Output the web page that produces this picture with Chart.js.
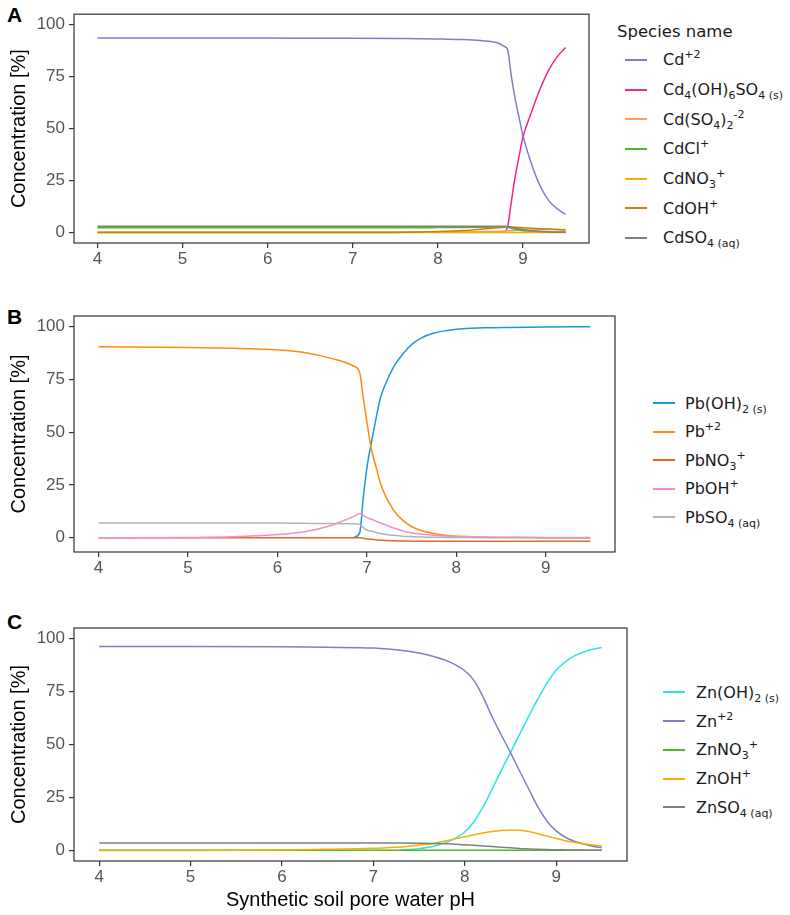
<!DOCTYPE html>
<html>
<head>
<meta charset="utf-8">
<script src="https://cdn.jsdelivr.net/npm/chart.js@4.4.0/dist/chart.umd.min.js"></script>
<style>
  body { margin: 0; background: #fff; width: 790px; height: 915px; position: relative; overflow: hidden; }
  canvas { position: absolute; left: 0; }
  .tag { position: absolute; left: 7px; font: bold 21px "Liberation Sans", Arial, sans-serif; color: #000; line-height: 24px; }
  .legend { position: absolute; font-family: "DejaVu Sans", sans-serif; font-size: 16px; color: #1a1a1a; }
  .ltitle { position: absolute; font-family: "DejaVu Sans", sans-serif; font-size: 16.5px; color: #1a1a1a; line-height: 20px; }
  .item { display: flex; align-items: center; white-space: nowrap; }
  .key { width: 22px; height: 2px; flex: none; }
  sub, sup { font-size: 11px; line-height: 0; position: relative; vertical-align: baseline; }
  sup { top: -7px; }
  sub { top: 4px; }
</style>
</head>
<body>
<div class="tag" style="top:3px">A</div>
<div class="tag" style="top:305px">B</div>
<div class="tag" style="top:610px">C</div>
<canvas id="chartA" width="600" height="273" style="top:0px"></canvas>
<canvas id="chartB" width="620" height="292" style="top:290px"></canvas>
<canvas id="chartC" width="630" height="325" style="top:590px"></canvas>
<div class="ltitle" style="left:617px; top:22px">Species name</div>
<div class="legend" id="legA" style="left:625px; top:45px"></div>
<div class="legend" id="legB" style="left:653px; top:389px"></div>
<div class="legend" id="legC" style="left:663px; top:678px"></div>
<script>
const FONT = '"Liberation Sans", Arial, sans-serif';
const yTicks = [0, 25, 50, 75, 100];
const xTicks = [4, 5, 6, 7, 8, 9];
const yTitle = 'Concentration [%]';
const xTitle = 'Synthetic soil pore water pH';

// A: cadmium species
const phA = [4, 5, 6, 7, 7.5, 8, 8.3, 8.5, 8.7, 8.78, 8.82, 8.86, 8.9, 8.95, 9.0, 9.1, 9.2, 9.3, 9.4, 9.5];
const cd2    = [93.6, 93.6, 93.5, 93.4, 93.3, 93.1, 92.8, 92.3, 91.3, 89.5, 87.8, 76, 66, 56, 46.5, 33, 22.5, 15.5, 11.5, 8.8];
const cdOHs  = [null, null, null, null, null, null, null, null, null, 0, 3, 14, 25, 36, 46, 58, 69, 78, 84.5, 89];
const cdSO42 = [0.3, 0.3, 0.3, 0.3, 0.3, 0.3, 0.4, 0.5, 0.6, 0.7, 0.8, 0.9, 1.0, 1.1, 1.2, 1.3, 1.4, 1.5, 1.5, 1.5];
const cdCl   = [2.3, 2.3, 2.3, 2.3, 2.3, 2.4, 2.5, 2.6, 2.7, 2.8, 2.6, 2.1, 1.6, 1.2, 0.9, 0.6, 0.5, 0.4, 0.3, 0.3];
const cdNO3  = [0.1, 0.1, 0.1, 0.1, 0.1, 0.1, 0.1, 0.1, 0.1, 0.1, 0.1, 0.1, 0.1, 0.1, 0.1, 0.1, 0.1, 0.1, 0.1, 0.1];
const cdOH   = [0, 0, 0, 0, 0.1, 0.5, 1.0, 1.6, 2.3, 2.6, 2.8, 2.7, 2.6, 2.5, 2.3, 2.1, 1.9, 1.7, 1.5, 1.3];
const cdSO4  = [3.0, 3.0, 3.0, 3.0, 3.0, 3.0, 3.0, 3.0, 3.0, 3.0, 2.9, 2.6, 2.2, 1.8, 1.5, 0.9, 0.5, 0.3, 0.2, 0.2];
const namesA = ['Cd<sup>+2</sup>', 'Cd<sub>4</sub>(OH)<sub>6</sub>SO<sub>4 (s)</sub>', 'Cd(SO<sub>4</sub>)<sub>2</sub><sup>-2</sup>',
  'CdCl<sup>+</sup>', 'CdNO<sub>3</sub><sup>+</sup>', 'CdOH<sup>+</sup>', 'CdSO<sub>4 (aq)</sub>'];
const colorsA = ['#7e7ec8', '#f5238d', '#f8a05c', '#52b52a', '#f9ad00', '#c8820a', '#808080'];

// B: lead species
const phB = [4, 5, 5.5, 6, 6.3, 6.6, 6.85, 6.92, 6.96, 7.0, 7.05, 7.1, 7.15, 7.2, 7.3, 7.4, 7.5, 7.6, 7.75, 7.9, 8.1, 8.3, 8.6, 9.0, 9.5];
const pbOH2 = [null, null, null, null, null, null, 0, 2.4, 19, 33, 45, 56, 66, 72, 81, 87, 91.5, 94.5, 97, 98.2, 99.2, 99.5, 99.7, 99.9, 100];
const pb2   = [90.5, 90.2, 89.8, 89.0, 87.8, 85.0, 81.4, 78.2, 66, 55, 42, 34, 26, 20.5, 13, 8.3, 5.3, 3.5, 2.0, 1.0, 0.5, 0.2, 0.1, 0, 0];
const pbNO3 = [0, 0, 0, 0, 0, 0, 0, 0, -0.3, -0.6, -0.8, -1.0, -1.2, -1.3, -1.5, -1.6, -1.7, -1.7, -1.7, -1.7, -1.7, -1.7, -1.7, -1.7, -1.7];
const pbOH  = [0, 0.1, 0.4, 1.5, 2.8, 5.8, 10, 11.4, 10.6, 9.6, 8.7, 7.9, 7.0, 6.2, 4.6, 3.2, 2.3, 1.7, 1.2, 0.8, 0.5, 0.3, 0.2, 0.1, 0.1];
const pbSO4 = [7.0, 7.0, 6.9, 6.9, 6.8, 6.7, 6.6, 6.3, 4.8, 3.6, 3.0, 2.5, 2.0, 1.6, 1.1, 0.7, 0.5, 0.3, 0.2, 0.1, 0.05, 0, 0, 0, 0];
const namesB = ['Pb(OH)<sub>2 (s)</sub>', 'Pb<sup>+2</sup>', 'PbNO<sub>3</sub><sup>+</sup>', 'PbOH<sup>+</sup>', 'PbSO<sub>4 (aq)</sub>'];
const colorsB = ['#1a9ad6', '#ff8c12', '#dd6a2a', '#f78dc6', '#b3b3b3'];

// C: zinc species
const phC = [4, 5, 6, 6.5, 7, 7.3, 7.5, 7.65, 7.8, 7.9, 8.0, 8.1, 8.2, 8.3, 8.4, 8.5, 8.6, 8.7, 8.8, 8.9, 9.0, 9.1, 9.2, 9.3, 9.4, 9.5];
const znOH2 = [null, null, null, null, null, 0.2, 0.8, 1.8, 3.8, 5.8, 8.7, 13.5, 20.5, 29, 37.8, 46.2, 54.8, 63.3, 71.5, 79, 85, 89, 91.8, 93.7, 95, 95.8];
const zn2   = [96.3, 96.3, 96.1, 95.9, 95.5, 94.5, 93.2, 91.7, 89.6, 87.6, 84.8, 80.3, 72.5, 63, 54.5, 46.2, 37.5, 29, 20.5, 13.8, 9.2, 6.2, 4.3, 3, 2, 1.2];
const znNO3 = [0.1, 0.1, 0.1, 0.1, 0.1, 0.1, 0.1, 0.1, 0.1, 0.1, 0.1, 0.1, 0.1, 0.1, 0.1, 0.1, 0.1, 0.1, 0.1, 0.1, 0.1, 0.1, 0.1, 0.1, 0.1, 0.1];
const znOH  = [0, 0, 0.2, 0.5, 1.0, 1.6, 2.5, 3.3, 4.6, 5.5, 6.4, 7.4, 8.2, 8.9, 9.4, 9.6, 9.5, 8.9, 7.9, 6.8, 5.6, 4.6, 3.8, 3.1, 2.6, 2.2];
const znSO4 = [3.5, 3.5, 3.5, 3.5, 3.5, 3.5, 3.4, 3.3, 3.1, 2.9, 2.7, 2.4, 2.1, 1.8, 1.5, 1.2, 0.9, 0.7, 0.5, 0.4, 0.3, 0.25, 0.2, 0.15, 0.1, 0.1];
const namesC = ['Zn(OH)<sub>2 (s)</sub>', 'Zn<sup>+2</sup>', 'ZnNO<sub>3</sub><sup>+</sup>', 'ZnOH<sup>+</sup>', 'ZnSO<sub>4 (aq)</sub>'];
const colorsC = ['#2ce3e6', '#7e7ec8', '#52b52a', '#f9ad00', '#808080'];

// panel border on all four sides
const frame = {
  id: 'frame',
  afterDatasetsDraw(chart) {
    const { ctx, chartArea: a } = chart;
    ctx.save();
    ctx.strokeStyle = '#333';
    ctx.lineWidth = 1.2;
    ctx.strokeRect(a.left, a.top, a.right - a.left, a.bottom - a.top);
    ctx.restore();
  }
};

function makePanel({ id, ph, series, colors, yMin, yMax, padTop, padRight, xHeight, withTitle }) {
  const grid = { display: true, drawOnChartArea: false, drawTicks: true, tickLength: 5, color: '#333', lineWidth: 1.2 };
  return new Chart(document.getElementById(id), {
    type: 'line',
    data: {
      datasets: series.map((s, i) => ({
        data: ph.map((x, j) => ({ x: x, y: s[j] })),
        borderColor: colors[i],
        borderWidth: 1.5,
        pointRadius: 0,
        cubicInterpolationMode: 'monotone',
        fill: false,
        order: -i,
      })),
    },
    options: {
      responsive: false,
      animation: false,
      layout: { padding: { top: padTop, right: padRight, left: 0, bottom: 0 } },
      plugins: { legend: { display: false }, tooltip: { enabled: false } },
      scales: {
        x: {
          type: 'linear', min: 3.725, max: 9.775,
          afterBuildTicks: s => { s.ticks = xTicks.map(v => ({ value: v })); },
          afterFit: s => { s.height = xHeight; },
          grid: grid,
          border: { display: false },
          ticks: { color: '#555', font: { family: FONT, size: 17 }, padding: 1, maxRotation: 0 },
          title: { display: withTitle, text: xTitle, color: '#000', font: { family: FONT, size: 20 }, padding: { top: 0, bottom: 3 } },
        },
        y: {
          min: yMin, max: yMax,
          afterBuildTicks: s => { s.ticks = yTicks.map(v => ({ value: v })); },
          afterFit: s => { s.width = 74; },
          grid: grid,
          border: { display: false },
          ticks: { color: '#555', font: { family: FONT, size: 17 }, padding: 4 },
          title: { display: true, text: yTitle, color: '#000', font: { family: FONT, size: 20 }, padding: { top: 7, bottom: 0 } },
        },
      },
    },
    plugins: [frame],
  });
}

function buildLegend(id, names, colors, rowH, gap) {
  const el = document.getElementById(id);
  names.forEach((html, i) => {
    const row = document.createElement('div');
    row.className = 'item';
    row.style.height = rowH + 'px';
    row.innerHTML = `<span class="key" style="background:${colors[i]};margin-right:${gap}px"></span><span>${html}</span>`;
    el.appendChild(row);
  });
}

makePanel({ id: 'chartA', ph: phA, series: [cd2, cdOHs, cdSO42, cdCl, cdNO3, cdOH, cdSO4], colors: colorsA,
  yMin: -5, yMax: 105, padTop: 10, padRight: 11, xHeight: 30, withTitle: false });
makePanel({ id: 'chartB', ph: phB, series: [pbOH2, pb2, pbNO3, pbOH, pbSO4], colors: colorsB,
  yMin: -6.8, yMax: 105.1, padTop: 26, padRight: 5, xHeight: 30, withTitle: false });
makePanel({ id: 'chartC', ph: phC, series: [znOH2, zn2, znNO3, znOH, znSO4], colors: colorsC,
  yMin: -5, yMax: 105, padTop: 38, padRight: 3, xHeight: 54, withTitle: true });

buildLegend('legA', namesA, colorsA, 29.7, 16);
buildLegend('legB', namesB, colorsB, 28.5, 10);
buildLegend('legC', namesC, colorsC, 28.75, 11);
</script>
</body>
</html>
